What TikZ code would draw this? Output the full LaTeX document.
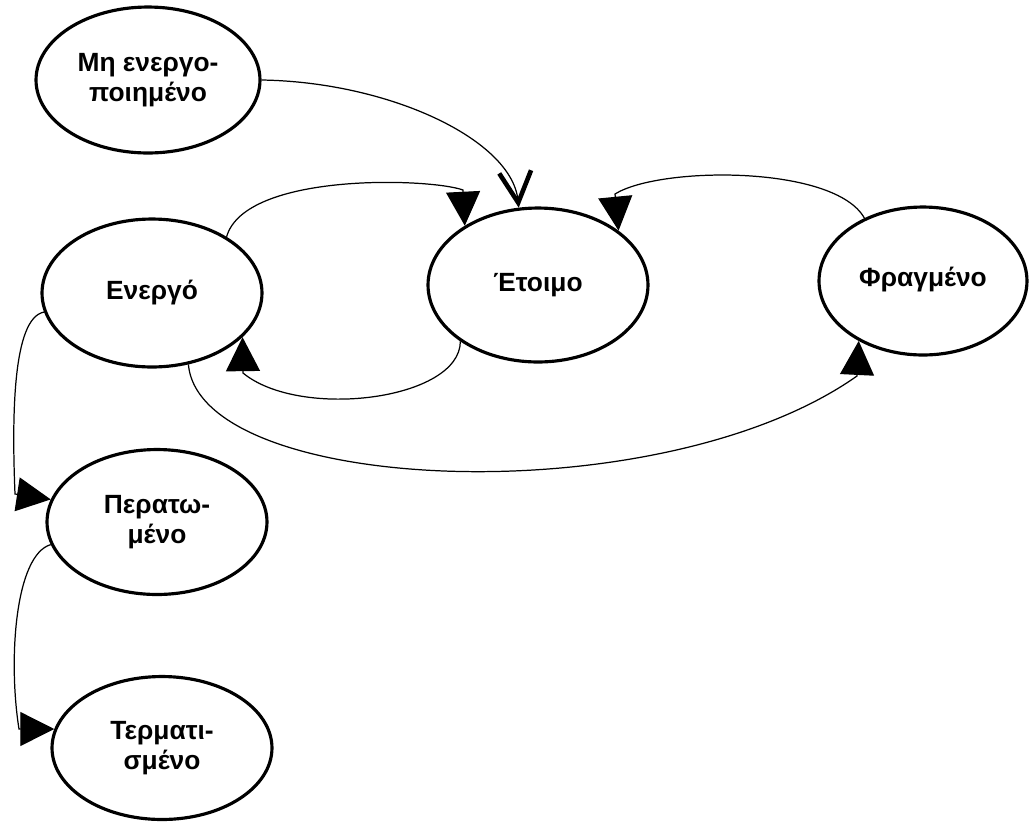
\documentclass[tikz,border=0pt]{standalone}
\usepackage{fontspec}
\setmainfont{Liberation Sans}
\usetikzlibrary{arrows.meta,shapes.geometric}
\begin{document}
\begin{tikzpicture}[x=0.02cm,y=-0.02cm,
  state/.style={ellipse, draw, line width=1.8pt, inner sep=0pt, align=center,
    font=\fontsize{15}{17}\selectfont\bfseries},
  conn/.style={line width=0.7pt},
  tri/.style={-{Triangle[length=0.68cm,width=0.68cm]}},
  barb/.style={-{Straight Barb[length=0.62cm,width=0.64cm,line width=2.6pt 0]}}
]
\useasboundingbox (0,0) rectangle (1029,823);
\node[state, minimum width=4.48cm, minimum height=2.92cm] (e1) at (148,80) {Μη ενεργο-\\ποιημένο};
\node[state, minimum width=4.40cm, minimum height=2.96cm] (e2) at (152,293) {Ενεργό};
\node[state, minimum width=4.40cm, minimum height=3.08cm] (e3) at (538,285) {Έτοιμο};
\node[state, minimum width=4.16cm, minimum height=2.96cm] (e4) at (923,281) {\raisebox{4.5pt}{Φραγμένο}};
\node[state, minimum width=4.40cm, minimum height=2.90cm] (e5) at (157,522) {Περατω-\\μένο};
\node[state, minimum width=4.40cm, minimum height=2.86cm] (e6) at (162,748) {Τερματι-\\σμένο};

\draw[conn,barb] (e1.0) .. controls (390,82) and (512,140) .. (e3.104);
\draw[conn,tri] (e2.37) .. controls (245,172) and (430,178) .. (463,190) -- (e3.141);
\draw[conn,tri] (e3.216) .. controls (460,400) and (300,420) .. (243,373) -- (e2.334);
\draw[conn,tri] (e4.133) .. controls (835,165) and (660,166) .. (615,194) -- (e3.34);
\draw[conn,tri] (e2.297) .. controls (200,495) and (660,515) .. (857,376) -- (e4.223);
\draw[conn,tri] (e2.190) .. controls (12,318) and (12,420) .. (15,494) -- (e5.168);
\draw[conn,tri] (e5.192) .. controls (15,555) and (8,660) .. (19,729) -- (e6.170);
\end{tikzpicture}
\end{document}
